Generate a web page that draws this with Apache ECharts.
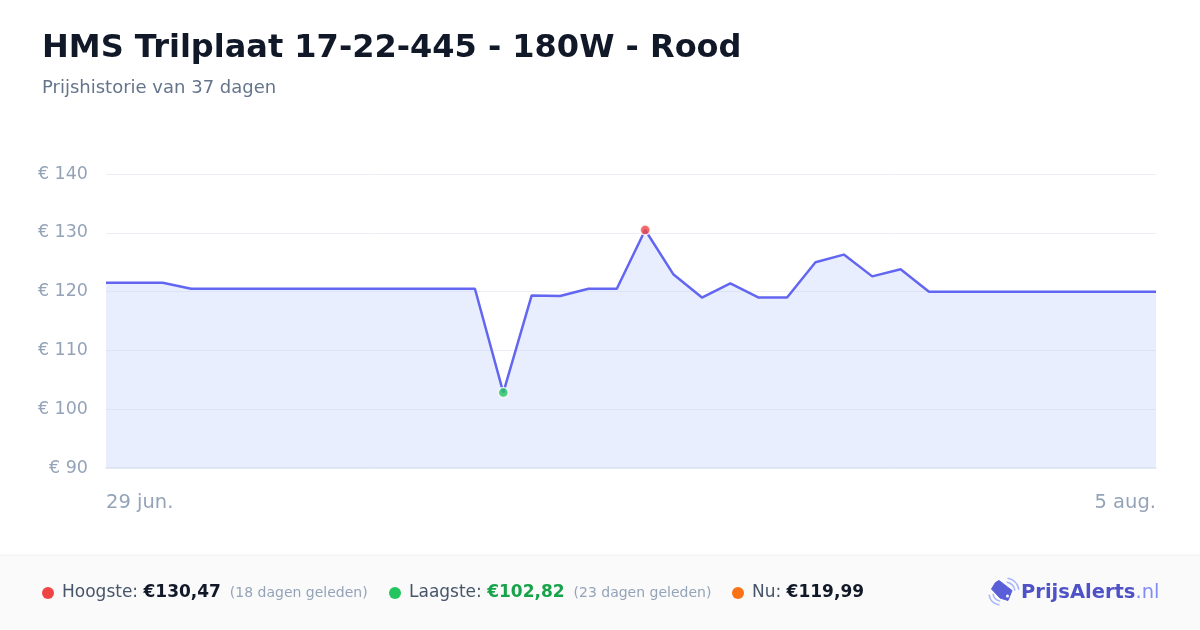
<!DOCTYPE html>
<html>
<head>
<meta charset="utf-8">
<script src="https://cdn.jsdelivr.net/npm/echarts@6/dist/echarts.min.js"></script>
<style>
  html, body { margin: 0; padding: 0; background: #fff; }
  #main { width: 1200px; height: 630px; }
</style>
</head>
<body>
<div id="main"></div>
<script>
  // datums (29 jun. t/m 5 aug.)
  const dates = [
    "29 jun.", "30 jun.", "1 jul.", "2 jul.", "3 jul.", "4 jul.", "5 jul.", "6 jul.",
    "7 jul.", "8 jul.", "9 jul.", "10 jul.", "11 jul.", "12 jul.", "13 jul.", "14 jul.",
    "15 jul.", "16 jul.", "17 jul.", "18 jul.", "19 jul.", "20 jul.", "21 jul.", "22 jul.",
    "23 jul.", "24 jul.", "25 jul.", "26 jul.", "27 jul.", "28 jul.", "29 jul.", "30 jul.",
    "31 jul.", "1 aug.", "2 aug.", "3 aug.", "4 aug.", "5 aug."
  ];
  // prijzen per dag
  const prices = [
    121.49, 121.49, 121.49, 120.49, 120.49, 120.49, 120.49, 120.49,
    120.49, 120.49, 120.49, 120.49, 120.49, 120.49, 102.82, 119.35,
    119.25, 120.49, 120.49, 130.47, 122.9, 118.99, 121.39, 118.99,
    118.99, 124.99, 126.29, 122.59, 123.79, 119.99, 119.99, 119.99,
    119.99, 119.99, 119.99, 119.99, 119.99, 119.99
  ];
  const yTicks = [90, 100, 110, 120, 130, 140];

  const title = "HMS Trilplaat 17-22-445 - 180W - Rood";
  const subtitle = "Prijshistorie van " + (dates.length - 1) + " dagen";

  const FONT = "DejaVu Sans";
  const last = prices.length - 1;
  let maxIdx = 0, minIdx = 0;
  prices.forEach((p, i) => {
    if (p > prices[maxIdx]) maxIdx = i;
    if (p < prices[minIdx]) minIdx = i;
  });
  function euro(v) {
    return "€" + v.toFixed(2).replace(".", ",");
  }

  const chart = echarts.init(document.getElementById("main"));

  // footer items
  function footerItem(x, dot, label, value, valueColor, extra) {
    return [
      { type: "circle", shape: { cx: x, cy: 593, r: 6 }, style: { fill: dot } },
      {
        type: "text",
        x: x + 14,
        y: 593,
        style: {
          text: "{a|" + label + " }{b|" + value + "}" + (extra ? "{c|  " + extra + "}" : ""),
          verticalAlign: "middle",
          rich: {
            a: { fontFamily: FONT, fontSize: 17, fill: "#475569" },
            b: { fontFamily: FONT, fontSize: 17, fontWeight: "bold", fill: valueColor },
            c: { fontFamily: FONT, fontSize: 14, fill: "#94a3b8" }
          }
        }
      }
    ];
  }

  const waves = { stroke: "#a5b4fc", lineWidth: 1.5, fill: null, lineCap: "round" };
  const graphic = [
    { type: "rect", shape: { x: 0, y: 555, width: 1200, height: 75 }, style: { fill: "#fafafa" } },
    { type: "line", shape: { x1: 0, y1: 555, x2: 1200, y2: 555 }, style: { stroke: "#f0f0f0", lineWidth: 1 } }
  ]
    .concat(footerItem(48, "#ef4444", "Hoogste:", euro(prices[maxIdx]), "#111827", "(" + (last - maxIdx) + " dagen geleden)"))
    .concat(footerItem(395, "#22c55e", "Laagste:", euro(prices[minIdx]), "#16a34a", "(" + (last - minIdx) + " dagen geleden)"))
    .concat(footerItem(738, "#f97316", "Nu:", euro(prices[last]), "#111827", null))
    .concat([
      // logo: tag met signaal
      {
        type: "polygon",
        shape: { points: [[991.5, 589], [995.5, 582.5], [999, 580.5], [1012, 590.5], [1008, 600.5], [1000, 598]] },
        style: { fill: "#5a5fd8", lineJoin: "round", stroke: "#5a5fd8", lineWidth: 1 }
      },
      { type: "circle", shape: { cx: 1007.5, cy: 596, r: 1.5 }, style: { fill: "#fafafa" } },
      { type: "arc", shape: { cx: 1005, cy: 592, r: 10, startAngle: -1.35, endAngle: -0.2 }, style: waves },
      { type: "arc", shape: { cx: 1005, cy: 592, r: 14, startAngle: -1.35, endAngle: -0.2 }, style: waves },
      { type: "arc", shape: { cx: 1001, cy: 593, r: 8, startAngle: 1.75, endAngle: 2.95 }, style: waves },
      { type: "arc", shape: { cx: 1001, cy: 593, r: 12, startAngle: 1.75, endAngle: 2.95 }, style: waves },
      {
        type: "text",
        x: 1021,
        y: 593,
        style: {
          text: "{a|PrijsAlerts}{b|.nl}",
          verticalAlign: "middle",
          rich: {
            a: { fontFamily: FONT, fontSize: 19.5, fontWeight: "bold", fill: "#4f52c6" },
            b: { fontFamily: FONT, fontSize: 19.5, fill: "#818cf8" }
          }
        }
      }
    ]);

  const option = {
    backgroundColor: "#ffffff",
    animation: false,
    textStyle: { fontFamily: FONT },
    title: {
      text: title,
      subtext: subtitle,
      left: 37,
      top: 28,
      itemGap: 14,
      textStyle: { fontFamily: FONT, fontSize: 32, fontWeight: "bold", color: "#111827" },
      subtextStyle: { fontFamily: FONT, fontSize: 18, color: "#64748b" }
    },
    grid: { left: 106, right: 44, top: 174, bottom: 162 },
    xAxis: {
      type: "category",
      data: dates,
      boundaryGap: false,
      axisLine: { show: true, lineStyle: { color: "#e2e8f0", width: 1.5 } },
      axisTick: { show: false },
      axisLabel: {
        interval: (i) => i === 0 || i === last,
        showMinLabel: true,
        showMaxLabel: true,
        alignMinLabel: "left",
        alignMaxLabel: "right",
        margin: 25,
        fontFamily: FONT,
        fontSize: 19.5,
        color: "#94a3b8"
      },
      splitLine: { show: false }
    },
    yAxis: {
      type: "value",
      min: yTicks[0],
      max: yTicks[yTicks.length - 1],
      interval: 10,
      axisLine: { show: false },
      axisTick: { show: false },
      axisLabel: {
        formatter: (v) => "€ " + v,
        margin: 18,
        fontFamily: FONT,
        fontSize: 17.5,
        color: "#94a3b8"
      },
      splitLine: { lineStyle: { color: "#eceef3", width: 1 } }
    },
    series: [
      {
        type: "line",
        data: prices,
        showSymbol: false,
        lineStyle: { color: "#6366f1", width: 2.5 },
        areaStyle: { color: "rgba(199,210,254,0.55)", origin: "start" },
        z: 2
      },
      {
        type: "scatter",
        data: [
          { value: [maxIdx, prices[maxIdx]], itemStyle: { color: "#ef4444" } },
          { value: [minIdx, prices[minIdx]], itemStyle: { color: "#22c55e" } }
        ],
        symbolSize: 10,
        itemStyle: { borderColor: "#ffffff", borderWidth: 1.5 },
        z: 3
      }
    ],
    graphic: graphic
  };

  chart.setOption(option);
</script>
</body>
</html>
